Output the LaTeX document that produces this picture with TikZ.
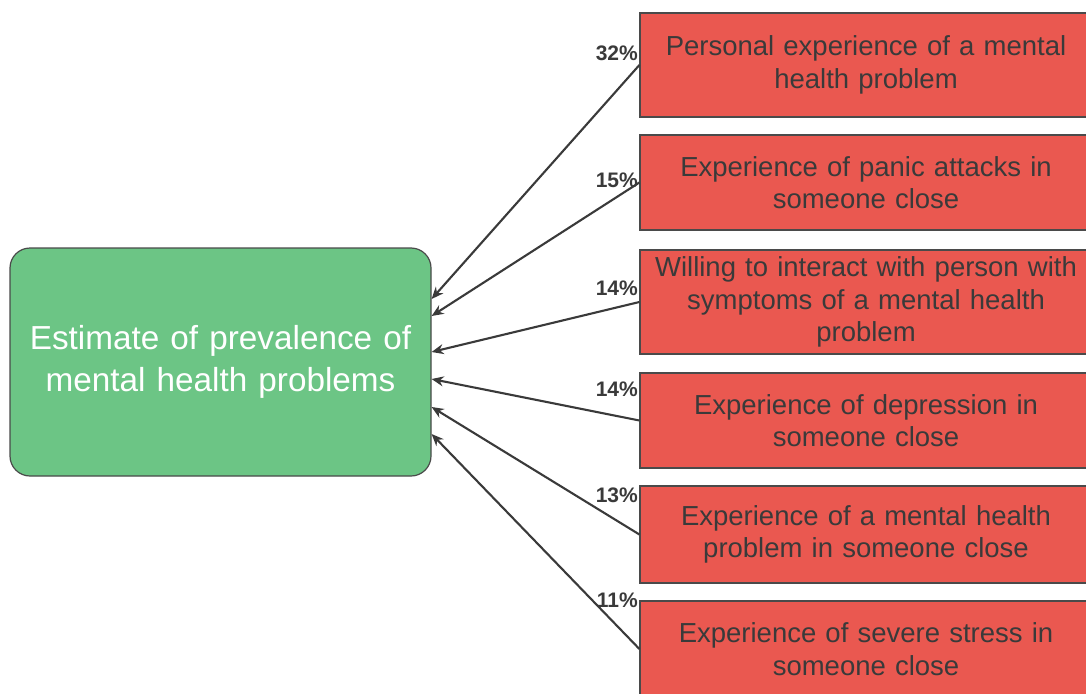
\documentclass[tikz,border=0pt]{standalone}
\usepackage{fontspec}
\setmainfont{Liberation Sans}
\usetikzlibrary{arrows.meta,calc}
\definecolor{boxgreen}{HTML}{6CC585}
\definecolor{boxred}{HTML}{EA5850}
\definecolor{ink}{HTML}{3A3A3A}
\definecolor{edge}{HTML}{4A4A4A}
\begin{document}
\begin{tikzpicture}[x=1pt,y=-1pt,
  factor/.style={draw=edge,line width=1.2pt,fill=boxred,text=ink,
    minimum width=452pt,inner sep=0pt,align=center,text width=440pt,
    font=\fontsize{27.5}{32.5}\selectfont},
  outcome/.style={draw=edge,line width=1.2pt,fill=boxgreen,text=white,
    rounded corners=20pt,minimum width=421pt,minimum height=228pt,
    inner sep=0pt,align=center,text width=410pt,
    font=\fontsize{33.3}{42}\selectfont},
  pct/.style={anchor=east,inner sep=0pt,text=ink,font=\fontsize{21}{24}\bfseries\selectfont},
  link/.style={draw=ink,line width=2.1pt,-{Stealth[length=12pt,width=10pt]}}]
\clip (0,0) rectangle (1086,693);
\fill[white] (0,0) rectangle (1086,693);
\node[outcome] (g) at (220.5,362) {Estimate of prevalence of\\mental health problems};
\node[factor,minimum height=104pt] (b1) at (866,65) {Personal experience of a mental\\health problem};
\node[factor,minimum height=95pt] (b2) at (866,182.5) {Experience of panic attacks in\\someone close};
\node[factor,minimum height=104pt] (b3) at (866,302) {Willing to interact with person with\\symptoms of a mental health\\problem};
\node[factor,minimum height=95pt] (b4) at (866,420.5) {Experience of depression in\\someone close};
\node[factor,minimum height=97pt] (b5) at (866,534.5) {Experience of a mental health\\problem in someone close};
\node[factor,minimum height=96pt] (b6) at (866,649) {Experience of severe stress in\\someone close};
\node[pct] (p1) at (638,53) {32\%};
\node[pct] (p2) at (638,180) {15\%};
\node[pct] (p3) at (638,288) {14\%};
\node[pct] (p4) at (638,389) {14\%};
\node[pct] (p5) at (638,495) {13\%};
\node[pct] (p6) at (638,600) {11\%};
\draw[link] (b1.west) -- ([yshift=63pt]g.east);
\draw[link] (b2.west) -- ([yshift=46pt]g.east);
\draw[link] (b3.west) -- ([yshift=10pt]g.east);
\draw[link] (b4.west) -- ([yshift=-17pt]g.east);
\draw[link] (b5.west) -- ([yshift=-45pt]g.east);
\draw[link] (b6.west) -- ([yshift=-72pt]g.east);
\end{tikzpicture}
\end{document}
